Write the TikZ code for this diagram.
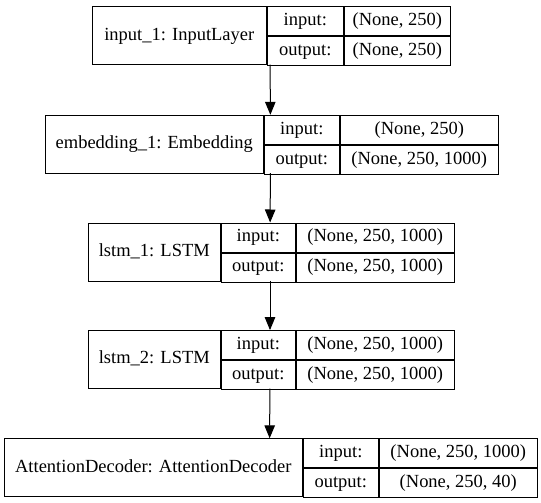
\documentclass[tikz,border=0pt]{standalone}
\usepackage{fontspec}
\setmainfont{Liberation Serif}
\usetikzlibrary{positioning, arrows.meta}

\begin{document}
\begin{tikzpicture}[x=1pt, y=-1pt,
  record/.style={minimum height=58pt, inner sep=0pt},
  cell/.style={draw, line width=1pt, minimum height=29pt, inner sep=0pt,
    text height=12.5pt, text depth=4pt, font=\fontsize{18.5}{22}\selectfont},
  namecell/.style={cell, minimum height=58pt},
  flow/.style={-{Triangle[length=13pt, width=10.5pt]}, line width=1pt}]
\useasboundingbox (0,0) rectangle (541,503);

% input layer
\node[record, minimum width=356pt] (inp) at (270,35.5) {};
\node[namecell, minimum width=174pt, anchor=north west] (inpname) at (inp.north west) {input\_1: InputLayer};
\node[cell, minimum width=76pt, anchor=north west] (inpin) at (inpname.north east) {input:};
\node[cell, minimum width=76pt, below=0pt of inpin] (inpout) {output:};
\node[cell, minimum width=106pt, right=0pt of inpin] (inpinval) {(None, 250)};
\node[cell, minimum width=106pt, right=0pt of inpout] (inpoutval) {(None, 250)};

% embedding
\node[record, minimum width=451pt] (emb) at (270.5,144) {};
\node[namecell, minimum width=218pt, anchor=north west] (embname) at (emb.north west) {embedding\_1: Embedding};
\node[cell, minimum width=75pt, anchor=north west] (embin) at (embname.north east) {input:};
\node[cell, minimum width=75pt, below=0pt of embin] (embout) {output:};
\node[cell, minimum width=158pt, right=0pt of embin] (embinval) {(None, 250)};
\node[cell, minimum width=158pt, right=0pt of embout] (emboutval) {(None, 250, 1000)};

% first lstm
\node[record, minimum width=364pt] (lstma) at (270,251.7) {};
\node[namecell, minimum width=132pt, anchor=north west] (lstmaname) at (lstma.north west) {lstm\_1: LSTM};
\node[cell, minimum width=74pt, anchor=north west] (lstmain) at (lstmaname.north east) {input:};
\node[cell, minimum width=74pt, below=0pt of lstmain] (lstmaout) {output:};
\node[cell, minimum width=158pt, right=0pt of lstmain] (lstmainval) {(None, 250, 1000)};
\node[cell, minimum width=158pt, right=0pt of lstmaout] (lstmaoutval) {(None, 250, 1000)};

% second lstm
\node[record, minimum width=364pt] (lstmb) at (270,359.3) {};
\node[namecell, minimum width=132pt, anchor=north west] (lstmbname) at (lstmb.north west) {lstm\_2: LSTM};
\node[cell, minimum width=74pt, anchor=north west] (lstmbin) at (lstmbname.north east) {input:};
\node[cell, minimum width=74pt, below=0pt of lstmbin] (lstmbout) {output:};
\node[cell, minimum width=158pt, right=0pt of lstmbin] (lstmbinval) {(None, 250, 1000)};
\node[cell, minimum width=158pt, right=0pt of lstmbout] (lstmboutval) {(None, 250, 1000)};

% decoder
\node[record, minimum width=531pt] (dec) at (269.5,467.5) {};
\node[namecell, minimum width=298pt, anchor=north west] (decname) at (dec.north west) {AttentionDecoder: AttentionDecoder};
\node[cell, minimum width=75pt, anchor=north west] (decin) at (decname.north east) {input:};
\node[cell, minimum width=75pt, below=0pt of decin] (decout) {output:};
\node[cell, minimum width=158pt, right=0pt of decin] (decinval) {(None, 250, 1000)};
\node[cell, minimum width=158pt, right=0pt of decout] (decoutval) {(None, 250, 40)};

\draw[flow] (inp) -- (emb);
\draw[flow] (emb) -- (lstma);
\draw[flow] (lstma) -- (lstmb);
\draw[flow] (lstmb) -- (dec);
\end{tikzpicture}
\end{document}
